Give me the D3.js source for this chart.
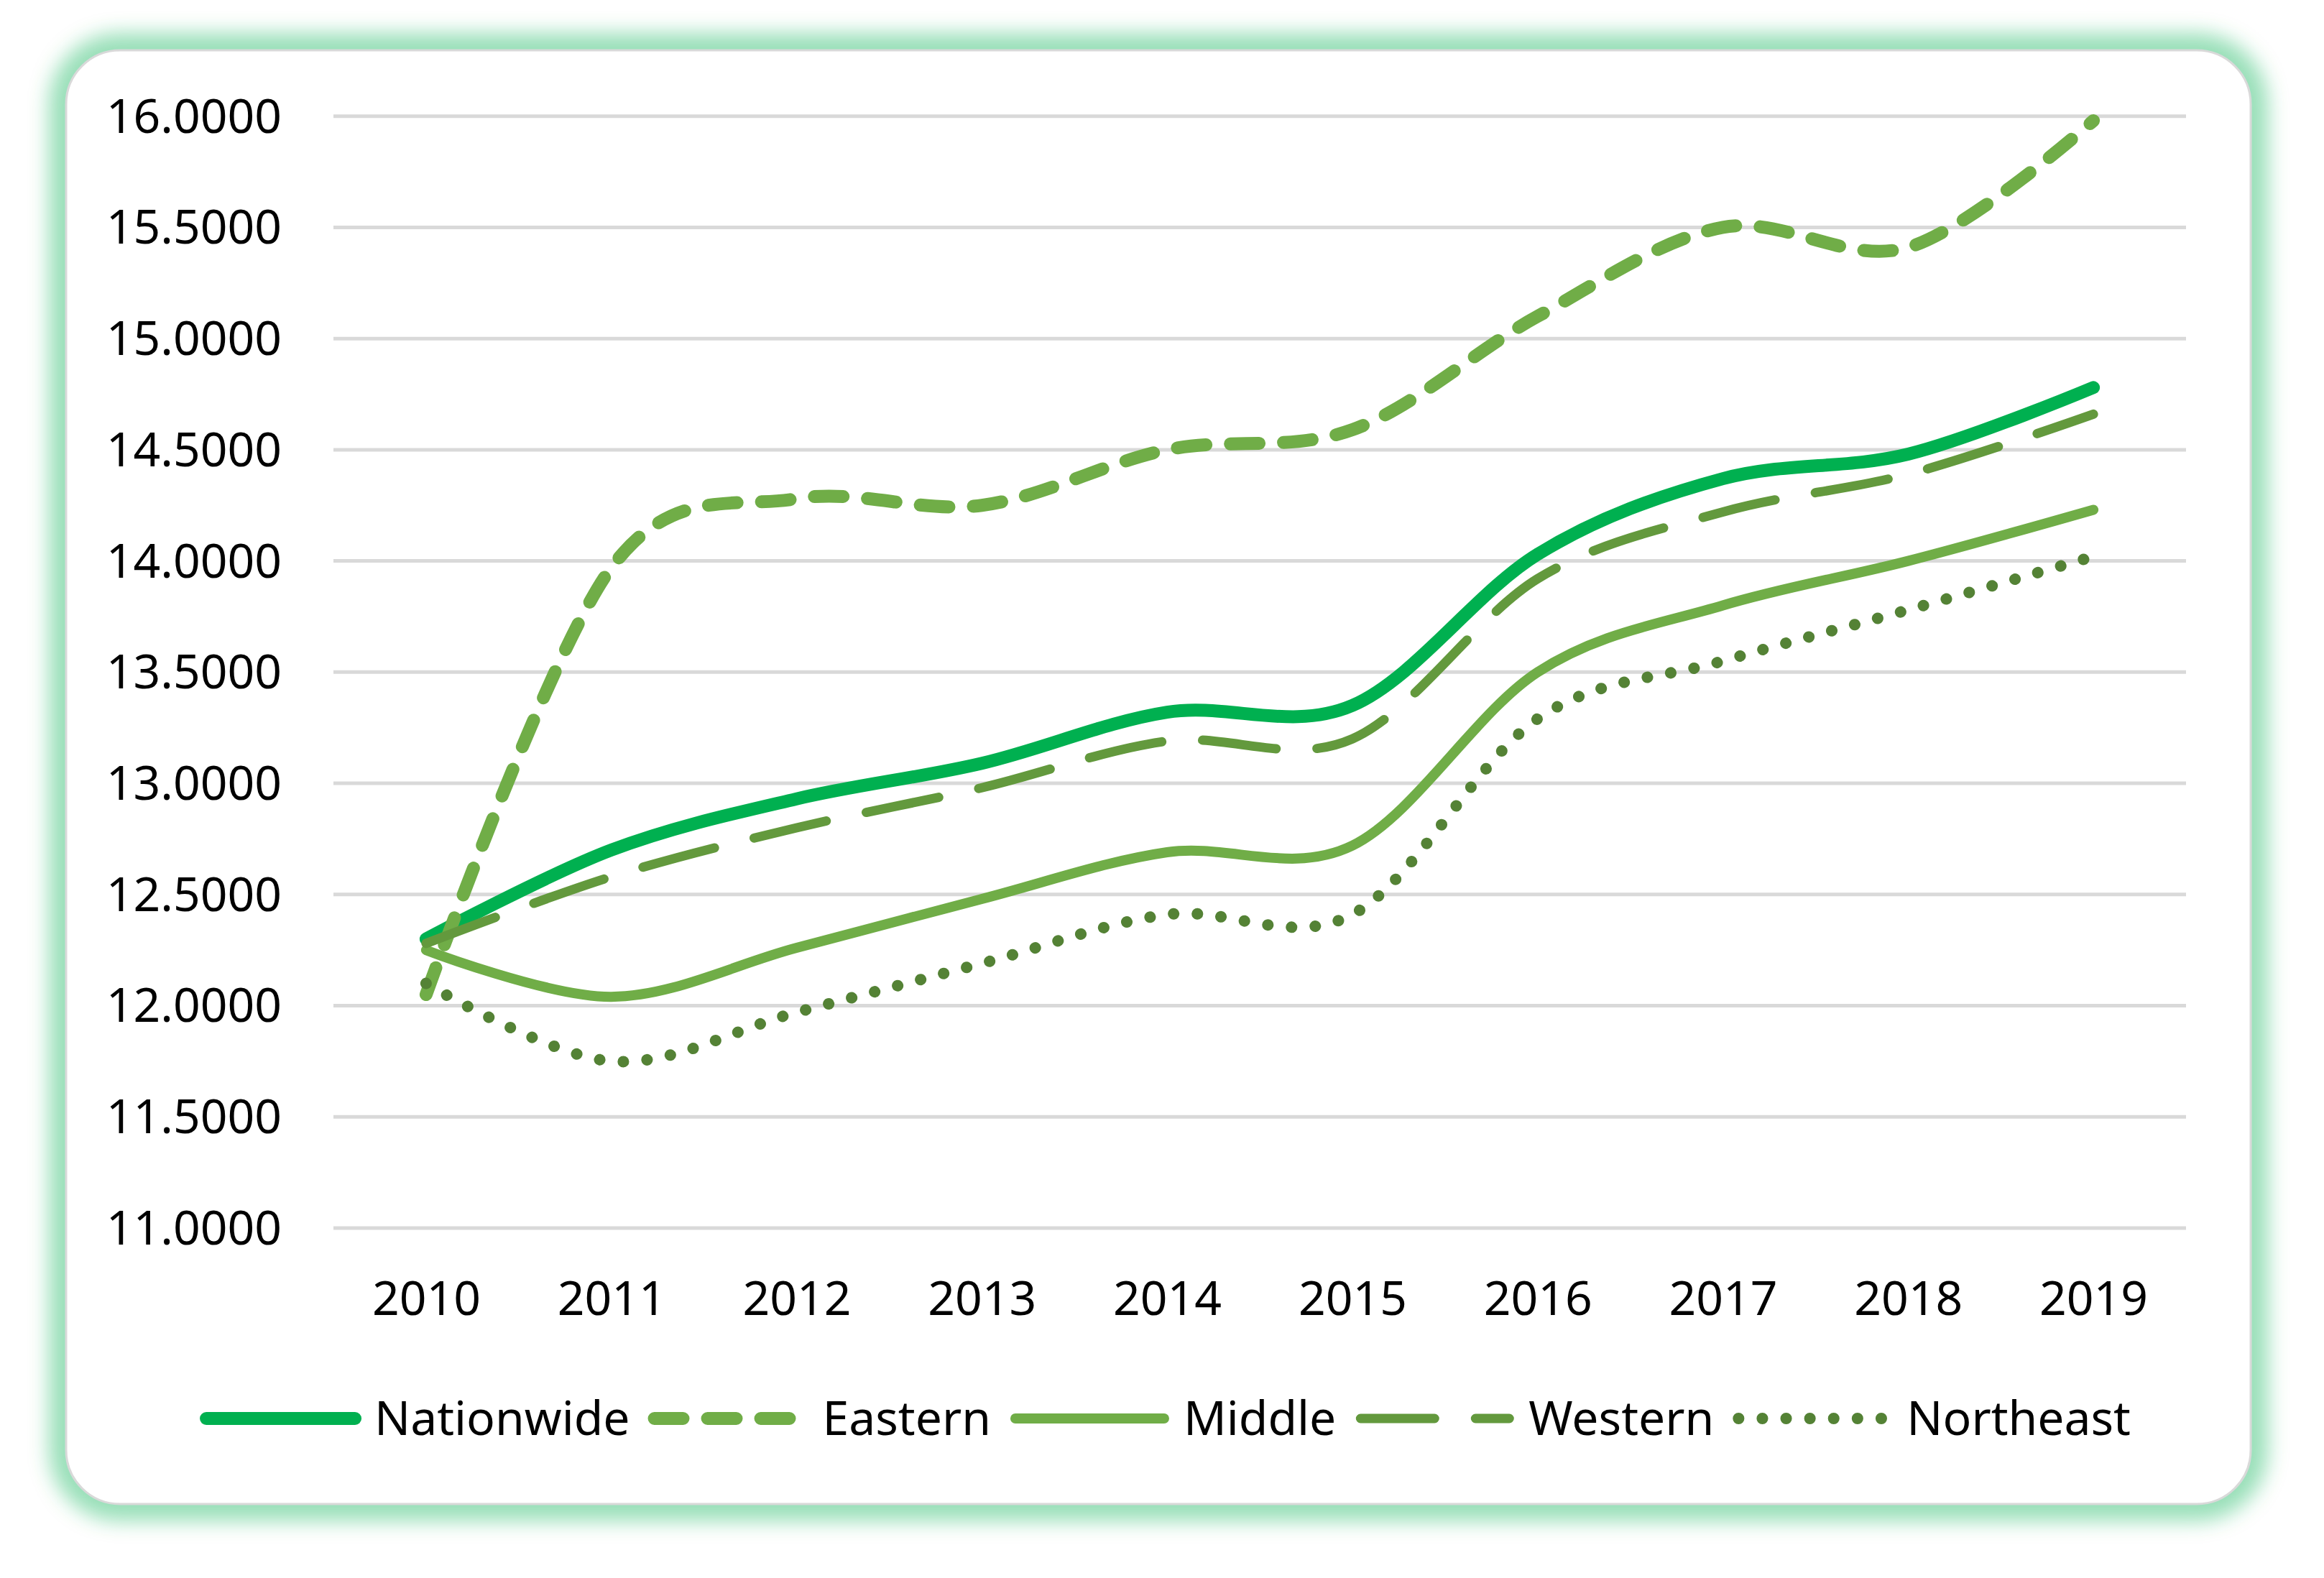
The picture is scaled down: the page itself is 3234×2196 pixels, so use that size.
<!DOCTYPE html>
<html>
<head>
<meta charset="utf-8">
<script src="https://cdn.jsdelivr.net/npm/d3@7"></script>
<style>
  html, body { margin: 0; padding: 0; background: #fff; }
  svg { display: block; }
</style>
</head>
<body>
<script>
var years = ["2010", "2011", "2012", "2013", "2014", "2015", "2016", "2017", "2018", "2019"];
var yTicks = [11, 11.5, 12, 12.5, 13, 13.5, 14, 14.5, 15, 15.5, 16];

var nationwide = [12.30, 12.70, 12.93, 13.09, 13.32, 13.35, 14.03, 14.37, 14.48, 14.78];
var eastern    = [12.05, 13.97, 14.28, 14.25, 14.50, 14.59, 15.10, 15.50, 15.41, 15.98];
var middle     = [12.25, 12.04, 12.26, 12.48, 12.69, 12.72, 13.50, 13.80, 14.00, 14.23];
var western    = [12.28, 12.58, 12.80, 12.98, 13.19, 13.20, 13.92, 14.22, 14.39, 14.66];
var northeast  = [12.10, 11.75, 11.97, 12.19, 12.41, 12.41, 13.29, 13.55, 13.78, 14.02];

var seriesNames = ["Nationwide", "Eastern", "Middle", "Western", "Northeast"];
var seriesValues = [nationwide, eastern, middle, western, northeast];

// line styles, one per series
var styles = [
	{ color: "#00b050", width: 18, dash: null },
	{ color: "#70ad47", width: 18, dash: "40,34" },
	{ color: "#70ad47", width: 14, dash: null },
	{ color: "#63993d", width: 13, dash: "103,57" },
	{ color: "#548235", width: 16, dash: "0.1,33" }
];

var W = 3234, H = 2196;
var font = "'Noto Sans', 'Open Sans', sans-serif";
var fontSize = 66;

var plot = { left: 464, right: 3042, top: 161.7, bottom: 1709 };
var card = { x: 92, y: 70, w: 3040, h: 2023, r: 75 };

var svg = d3.select("body")
	.append("svg")
	.attr("width", W)
	.attr("height", H)
	.attr("viewBox", `0 0 ${W} ${H}`);

// glow around the card
var defs = svg.append("defs");
defs.append("filter")
	.attr("id", "glow")
	.attr("x", "-10%").attr("y", "-10%")
	.attr("width", "120%").attr("height", "120%")
	.append("feGaussianBlur")
	.attr("stdDeviation", 14);

svg.append("rect")
	.attr("x", card.x - 24)
	.attr("y", card.y - 24)
	.attr("width", card.w + 48)
	.attr("height", card.h + 48)
	.attr("rx", card.r + 24)
	.style("fill", "#00b050")
	.style("fill-opacity", 0.4)
	.attr("filter", "url(#glow)");

svg.append("rect")
	.attr("x", card.x)
	.attr("y", card.y)
	.attr("width", card.w)
	.attr("height", card.h)
	.attr("rx", card.r)
	.style("fill", "#fff")
	.style("stroke", "#d9d9d9")
	.style("stroke-width", 3);

var x = d3.scalePoint()
	.domain(years)
	.range([plot.left, plot.right])
	.padding(0.5);

var y = d3.scaleLinear()
	.domain([11, 16])
	.range([plot.bottom, plot.top]);

// gridlines
svg.append("g")
	.selectAll("line")
	.data(yTicks)
	.enter().append("line")
	.attr("x1", plot.left)
	.attr("x2", plot.right)
	.attr("y1", d => y(d))
	.attr("y2", d => y(d))
	.style("stroke", "#d9d9d9")
	.style("stroke-width", 5);

// y axis labels
var yAxis = d3.axisLeft(y)
	.tickValues(yTicks)
	.tickFormat(d3.format(".4f"))
	.tickSize(0)
	.tickPadding(plot.left - 392);

var gy = svg.append("g")
	.attr("transform", `translate(${plot.left},0)`)
	.call(yAxis);
gy.select(".domain").remove();
gy.selectAll("text")
	.attr("dy", "0.34em")
	.style("font-family", font)
	.style("font-size", fontSize + "px")
	.style("fill", "#000");

// x axis labels
var xAxis = d3.axisBottom(x)
	.tickSize(0)
	.tickPadding(0);

var gx = svg.append("g")
	.attr("transform", `translate(0,${plot.bottom})`)
	.call(xAxis);
gx.select(".domain").remove();
gx.selectAll("text")
	.attr("y", 121)
	.attr("dy", 0)
	.style("font-family", font)
	.style("font-size", fontSize + "px")
	.style("fill", "#000");

// series lines
var line = d3.line()
	.x((d, i) => x(years[i]))
	.y(d => y(d))
	.curve(d3.curveCardinal.tension(0));

function styleLine(sel, s) {
	sel.style("fill", "none")
		.style("stroke", s.color)
		.style("stroke-width", s.width)
		.style("stroke-linecap", "round")
		.style("stroke-linejoin", "round");
	if (s.dash) sel.style("stroke-dasharray", s.dash);
}

seriesValues.forEach(function(vals, k) {
	svg.append("path")
		.datum(vals)
		.attr("d", line)
		.call(styleLine, styles[k]);
});

// legend
var legendY = 1974;
var sampleLen = 207;
var legendGap = 34;
var legend = svg.append("g");
var cx = 0;
seriesNames.forEach(function(name, k) {
	var item = legend.append("g");
	item.append("line")
		.attr("x1", cx)
		.attr("x2", cx + sampleLen)
		.attr("y1", legendY)
		.attr("y2", legendY)
		.call(styleLine, styles[k]);
	var t = item.append("text")
		.attr("x", cx + sampleLen + 27)
		.attr("y", legendY + 23)
		.text(name)
		.style("font-family", font)
		.style("font-size", fontSize + "px")
		.style("fill", "#000");
	cx = cx + sampleLen + 27 + t.node().getComputedTextLength() + legendGap;
});
var legendW = cx - legendGap;
legend.attr("transform", `translate(${1626 - legendW / 2},0)`);
</script>
</body>
</html>
